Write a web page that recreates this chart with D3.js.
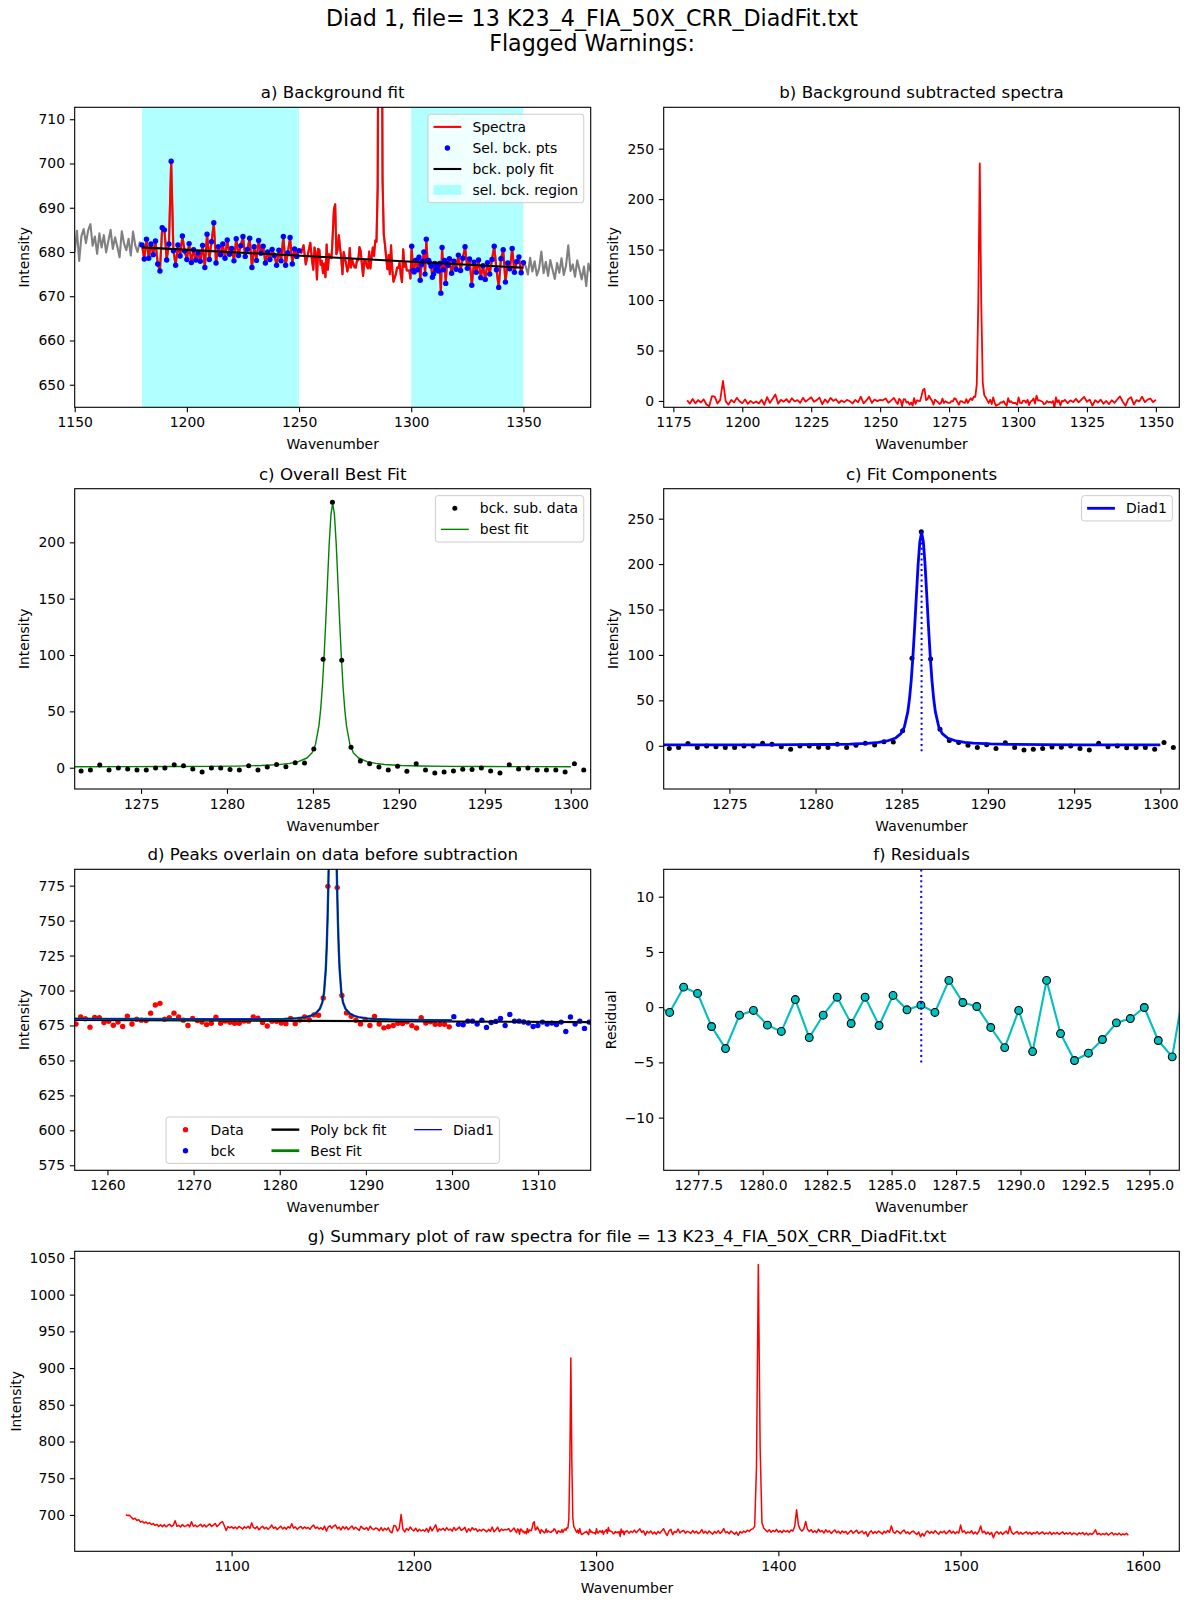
<!DOCTYPE html>
<html>
<head>
<meta charset="utf-8">
<script src="https://cdn.jsdelivr.net/npm/d3@7"></script>
<style>
  body { margin: 0; background: #fff; }
  svg text { font-family: "DejaVu Sans", sans-serif; }
</style>
</head>
<body>
<svg id="fig" width="1188" height="1605"></svg>
<script>
// ---- raw spectrum ----
// coarse part, 1 cm-1 steps from 1042 to 1255
const lowStart = 1042;
const lowY = [
  700.2, 699.1, 699.6, 697.0, 694.3, 695.5, 692.4, 693.6, 690.2, 691.3,
  689.0, 690.4, 688.1, 689.5, 686.9, 688.3, 685.7, 687.2, 684.3, 686.6,
  684.1, 686.8, 683.9, 685.7, 687.4, 684.2, 686.0, 692.1, 684.5, 685.8,
  683.6, 686.9, 684.4, 685.1, 687.0, 683.8, 690.8, 684.6, 686.2, 683.9,
  685.4, 687.3, 684.0, 686.5, 683.7, 685.9, 687.8, 684.3, 686.1, 688.4,
  684.2, 686.7, 689.6, 691.0, 685.3, 678.9, 684.1, 682.5, 684.0, 681.7,
  683.5, 681.2, 684.3, 682.6, 680.9, 683.8, 682.0, 684.6, 681.5, 689.2,
  683.0, 681.4, 684.1, 679.8, 682.7, 684.5, 681.3, 683.2, 680.6, 682.9,
  686.3, 681.8, 683.5, 680.2, 682.6, 684.7, 681.0, 683.3, 680.7, 684.0,
  682.2, 688.0, 681.9, 683.6, 680.4, 682.8, 684.3, 681.1, 683.7, 681.6,
  682.9, 680.5, 684.2, 686.1, 681.7, 683.4, 680.8, 682.6, 680.1, 684.8,
  678.0, 683.6, 685.2, 682.0, 684.9, 686.3, 681.4, 683.5, 679.6, 684.2,
  681.0, 683.8, 679.9, 682.5, 685.0, 680.7, 683.3, 681.2, 678.8, 684.7,
  681.9, 680.4, 683.0, 679.2, 684.6, 681.5, 680.0, 682.2, 681.6, 678.4,
  682.9, 678.6, 681.8, 679.4, 682.5, 677.3, 675.7, 685.5, 685.0, 678.2,
  681.8, 700.5, 680.3, 677.0, 681.6, 679.1, 683.6, 680.2, 678.3, 681.9,
  677.6, 680.5, 678.2, 679.8, 677.9, 681.5, 676.5, 684.0, 678.3, 682.3,
  686.6, 677.5, 681.2, 679.4, 681.8, 678.6, 682.7, 679.5, 680.8, 678.0,
  683.0, 679.2, 681.4, 683.5, 679.0, 680.6, 683.1, 676.5, 681.2, 678.1,
  682.6, 679.7, 681.3, 677.5, 680.0, 678.3, 680.6, 679.2, 677.0, 680.4,
  678.0, 683.5, 677.0, 679.8, 683.3, 677.3, 680.7, 679.0, 680.3, 679.8,
  681.5, 677.2, 679.6, 682.1
];
// fine part around the diad, instrument steps
const fineStart = 1255.81, fineStep = 0.5415;
const fineY = [
  678.0, 676.0, 681.0, 679.8, 673.8, 680.7, 680.5, 677.1, 678.0, 675.2,
  677.4, 674.3, 681.7, 676.0, 679.5, 678.8, 678.6, 683.8, 689.6, 690.8,
  679.5, 680.5, 683.8, 681.0, 678.8, 675.0, 680.0, 678.6, 677.4,
  675.6, 676.6, 680.9, 676.5, 678.2, 677.3, 676.5, 676.5, 678.2, 678.1,
  681.1, 680.2, 677.2, 674.6, 678.1, 678.0, 676.8, 676.3, 680.1, 676.3,
  678.9, 681.0, 679.1, 682.6, 682.3, 694.7, 774.5, 913.7, 773.6, 696.4,
  684.0, 681.6, 678.7, 676.1, 679.3, 675.0, 681.5, 676.0, 673.3, 674.2,
  675.0, 676.5, 676.4, 677.6, 674.9, 673.2, 680.6, 676.7, 677.6, 675.8,
  675.8, 675.8, 674.0, 681.3, 675.8,
  675.5, 678.1, 678.1, 676.0, 678.8, 673.6, 677.1, 677.9, 680.0, 675.0,
  682.9, 678.1, 678.1, 677.5, 676.8, 674.3, 675.0, 677.4, 676.0, 676.7,
  675.7, 677.4, 670.7, 681.0, 676.0, 678.1, 672.9, 677.4, 677.0
];
// coarse part, 1 cm-1 steps from 1317 to 1592
const highStart = 1317;
const highY = [
  678.5, 675.2, 677.9, 676.1, 679.3, 675.8, 678.6, 681.2, 676.3, 678.4,
  672.5, 677.7, 675.4, 678.2, 674.2, 676.9, 673.8, 677.6, 675.0, 678.3,
  681.3, 676.0, 672.0, 678.5, 680.5, 673.2, 677.5, 676.2, 680.8, 675.4,
  677.8, 678.9, 675.3, 677.6, 676.8, 674.9, 678.7, 675.6, 677.9, 674.7,
  676.3, 680.1, 675.2, 677.8, 674.6, 678.2, 676.0, 673.9, 677.5, 675.3,
  678.6, 674.8, 676.9, 681.5, 675.7, 677.2, 674.4, 678.1, 676.0, 673.8,
  676.7, 672.3, 677.4, 675.5, 678.0, 676.4, 679.2, 677.6, 680.1, 681.0,
  684.5, 765.0, 1041.0, 792.0, 689.5, 682.0, 679.4, 677.1, 679.8, 676.5,
  678.9, 677.2, 680.3, 676.6, 678.4, 675.8, 679.1, 677.0, 678.7, 676.3,
  679.5, 678.1, 684.8, 707.0, 686.5, 680.2, 678.0, 681.3, 691.0, 680.4,
  677.6, 679.9, 676.2, 678.5, 675.8, 680.5, 677.1, 678.6, 675.4, 679.7,
  676.8, 678.3, 674.9, 677.5, 679.6, 675.7, 677.9, 674.6, 678.2, 676.0,
  677.7, 673.9, 676.8, 678.9, 675.1, 677.4, 679.2, 674.8, 676.5, 678.0,
  674.3, 677.2, 670.9, 676.1, 678.4, 674.7, 677.5, 675.3, 678.1, 676.2,
  674.0, 677.8, 675.6, 678.7, 676.3, 685.1, 677.2, 675.0, 678.3, 676.9,
  674.5, 677.6, 679.3, 675.2, 677.0, 674.1, 676.8, 678.0, 675.6, 673.4,
  676.9, 670.2, 674.8, 671.3, 676.5, 678.2, 674.9, 677.3, 675.1, 678.6,
  676.0, 673.8, 677.4, 675.7, 678.1, 674.3, 676.6, 679.0, 675.2, 677.8,
  674.6, 677.1, 675.3, 686.2, 676.4, 678.3, 674.7, 677.0, 675.5, 678.4,
  674.2, 676.7, 673.9, 677.5, 685.0, 675.8, 677.9, 674.1, 676.6, 673.5,
  676.2, 669.0, 675.4, 677.3, 674.0, 676.8, 673.6, 675.9, 678.0, 674.4,
  684.2, 676.1, 673.7, 675.8, 677.4, 674.0, 676.3, 673.8, 675.6, 677.0,
  674.2, 676.5, 673.5, 675.9, 674.6, 677.1, 673.9, 675.4, 676.8, 673.7,
  675.5, 674.1, 676.7, 673.4, 675.8, 674.3, 676.2, 673.6, 675.1, 677.0,
  673.8, 675.6, 674.0, 676.1, 673.2, 675.3, 674.5, 672.9, 675.7, 674.2,
  676.0, 673.1, 675.4, 672.8, 674.9, 673.5, 675.8, 679.8, 673.3, 675.1,
  672.9, 674.6, 673.2, 675.3, 672.6, 674.4, 676.1, 672.8, 674.7, 673.0,
  675.2, 672.7, 674.3, 673.1, 675.0, 672.4
];

// background regions and polynomial fit (end points of the fitted line)
const bckRegions = [[1180, 1250], [1300, 1350]];
const bckX = [1180, 1350];
const bckY = [681.05, 676.45];

// best-fit / Diad1 curve, background subtracted
const fitX = [1255, 1260, 1265, 1270, 1274, 1277, 1279, 1280.5, 1282, 1283,
  1283.65, 1284.15, 1284.65, 1284.95, 1285.15, 1285.35, 1285.45, 1285.55, 1285.65, 1285.75,
  1285.85, 1285.95, 1286.05, 1286.15, 1286.25, 1286.35, 1286.45, 1286.55, 1286.65, 1286.75,
  1286.85, 1286.95, 1287.15, 1287.35, 1287.65, 1288.15, 1288.65, 1289.15, 1290.15, 1291.15,
  1293.15, 1295, 1298, 1300];
const fitY = [0.85, 0.85, 0.85, 0.87, 0.93, 1.03, 1.17, 1.4, 1.9, 2.7,
  3.8, 5.3, 8.6, 13.3, 20.6, 37.3, 52.0, 72.3, 99.3, 131.0,
  166.0, 199.9, 224.9, 234.8, 224.9, 199.9, 166.0, 131.0, 99.3, 72.3,
  52.0, 37.3, 20.6, 13.3, 8.6, 5.3, 3.8, 2.9, 2.0, 1.56,
  1.19, 1.04, 0.93, 0.9];
const peakCentre = 1286.15;

// residuals on the instrument grid
const resStart = 1275.85, resStep = 0.5415;
const resY = [0.1, -0.48, 1.81, 1.24, -1.75, -3.75, -0.73, -0.3, -1.63, -2.2,
  0.69, -2.75, -0.73, 0.9, -1.48, 0.9, -1.66, 1.06, -0.24, 0.18,
  -0.48, 2.42, 0.42, 0.06, -1.84, -3.66, -0.3, -4.02, 2.42, -2.39,
  -4.83, -4.17, -2.93, -1.42, -1.03, -0.03, -3.02, -4.5, 2.9];

// tick values
const aXT = [1150, 1200, 1250, 1300, 1350], aYT = [650, 660, 670, 680, 690, 700, 710];
const bXT = [1175, 1200, 1225, 1250, 1275, 1300, 1325, 1350], bYT = [0, 50, 100, 150, 200, 250];
const cXT = [1275, 1280, 1285, 1290, 1295, 1300], cYT = [0, 50, 100, 150, 200];
const ccYT = [0, 50, 100, 150, 200, 250];
const dXT = [1260, 1270, 1280, 1290, 1300, 1310], dYT = [575, 600, 625, 650, 675, 700, 725, 750, 775];
const fXT = [1277.5, 1280, 1282.5, 1285, 1287.5, 1290, 1292.5, 1295], fYT = [-10, -5, 0, 5, 10];
const gXT = [1100, 1200, 1300, 1400, 1500, 1600], gYT = [700, 750, 800, 850, 900, 950, 1000, 1050];

const fileName = "13 K23_4_FIA_50X_CRR_DiadFit.txt";

// ---- derived data ----
const spec = [];
lowY.forEach((v, i) => spec.push({x: lowStart + i, y: v}));
fineY.forEach((v, i) => spec.push({x: fineStart + i * fineStep, y: v}));
highY.forEach((v, i) => spec.push({x: highStart + i, y: v}));

const bck = d3.scaleLinear().domain(bckX).range(bckY);
const inBck = d => bckRegions.some(r => d.x >= r[0] && d.x <= r[1]);
const selSpec = spec.filter(d => d.x >= 1180 && d.x <= 1350);
const sub = selSpec.map(d => ({x: d.x, y: d.y - bck(d.x)}));
const fit = fitX.map((v, i) => ({x: v, y: fitY[i]}));
const res = resY.map((v, i) => ({x: resStart + i * resStep, y: v}));

// ---- drawing helpers ----
const svg = d3.select("#fig");
const FS = 13.9;
const TICK = 4.86;
let clipN = 0;

function makePanel(p) {
  const g = svg.append("g").attr("transform", `translate(${p.left},${p.top})`);
  const x = d3.scaleLinear().domain(p.xd).range([0, p.w]);
  const y = d3.scaleLinear().domain(p.yd).range([p.h, 0]);
  const cid = "clip" + (clipN++);
  g.append("clipPath").attr("id", cid).append("rect").attr("width", p.w).attr("height", p.h);
  const plot = g.append("g").attr("clip-path", `url(#${cid})`);
  const xa = g.append("g").attr("transform", `translate(0,${p.h})`)
    .call(d3.axisBottom(x).tickValues(p.xt).tickFormat(p.xf || d3.format("d")).tickSize(TICK).tickPadding(TICK));
  const ya = g.append("g")
    .call(d3.axisLeft(y).tickValues(p.yt).tickFormat(d3.format("d")).tickSize(TICK).tickPadding(TICK));
  [xa, ya].forEach(a => {
    a.select(".domain").remove();
    a.attr("font-size", FS).attr("font-family", "DejaVu Sans");
    a.selectAll(".tick line").attr("stroke-width", 1.1);
  });
  g.append("rect").attr("width", p.w).attr("height", p.h)
    .attr("fill", "none").attr("stroke", "#000").attr("stroke-width", 1.1);
  g.append("text").attr("x", p.w / 2).attr("y", -9).attr("text-anchor", "middle")
    .attr("font-size", 16.67).text(p.title);
  g.append("text").attr("x", p.w / 2).attr("y", p.h + 42).attr("text-anchor", "middle")
    .attr("font-size", FS).text("Wavenumber");
  const bb = ya.node().getBBox();
  g.append("text").attr("transform", `translate(${bb.x - 9},${p.h / 2}) rotate(-90)`)
    .attr("text-anchor", "middle").attr("font-size", FS).text(p.ylabel || "Intensity");
  return {g, plot, x, y, w: p.w, h: p.h};
}

function line(P, data, color, width, dash) {
  const l = d3.line().x(d => P.x(d.x)).y(d => P.y(d.y));
  const s = P.plot.append("path").datum(data).attr("d", l)
    .attr("fill", "none").attr("stroke", color).attr("stroke-width", width)
    .attr("stroke-linejoin", "round");
  if (dash) s.attr("stroke-dasharray", dash);
  return s;
}

function dots(P, data, color, r, stroke) {
  const s = P.plot.append("g").selectAll("circle").data(data).join("circle")
    .attr("cx", d => P.x(d.x)).attr("cy", d => P.y(d.y)).attr("r", r).attr("fill", color);
  if (stroke) s.attr("stroke", stroke).attr("stroke-width", 1.1);
}

function legend(P, items, loc, ncol) {
  const lg = P.g.append("g");
  const pad = 5.6, hl = 27.8, htp = 11.1, rowH = 14.1, ls = 6.95, cs = 27.8, bap = 6.95;
  const tw = items.map(it => {
    const t = lg.append("text").attr("font-size", FS).text(it.label);
    const wd = t.node().getComputedTextLength();
    t.remove();
    return wd;
  });
  const nrow = Math.ceil(items.length / ncol);
  const cols = d3.range(ncol).map(c => d3.range(items.length).filter(i => Math.floor(i / nrow) === c));
  const colW = cols.map(c => hl + htp + d3.max(c, i => tw[i]));
  const bw = 2 * pad + d3.sum(colW) + cs * (ncol - 1);
  const bh = 2 * pad + nrow * rowH + (nrow - 1) * ls;
  const bx = loc === "upper right" ? P.w - bap - bw : (P.w - bw) / 2;
  const by = loc === "upper right" ? bap : P.h - bap - bh;
  lg.append("rect").attr("x", bx).attr("y", by).attr("width", bw).attr("height", bh).attr("rx", 2.8)
    .attr("fill", "#fff").attr("fill-opacity", 0.8).attr("stroke", "#cccccc").attr("stroke-width", 1);
  let cx = bx + pad;
  cols.forEach((c, ci) => {
    c.forEach((i, r) => {
      const it = items[i];
      const cy = by + pad + r * (rowH + ls) + rowH / 2;
      if (it.type === "line") {
        lg.append("line").attr("x1", cx).attr("x2", cx + hl).attr("y1", cy).attr("y2", cy)
          .attr("stroke", it.color).attr("stroke-width", it.width);
      } else if (it.type === "dot") {
        lg.append("circle").attr("cx", cx + hl / 2).attr("cy", cy).attr("r", it.r).attr("fill", it.color);
      } else {
        lg.append("rect").attr("x", cx).attr("y", cy - 4.87).attr("width", hl).attr("height", 9.73)
          .attr("fill", it.color).attr("fill-opacity", 0.3);
      }
      lg.append("text").attr("x", cx + hl + htp).attr("y", cy + 5).attr("font-size", FS).text(it.label);
    });
    cx += colW[ci] + cs;
  });
}

// ---- figure title ----
svg.append("text").attr("x", 592).attr("y", 26).attr("text-anchor", "middle")
  .attr("font-size", 22.2).text("Diad 1, file= " + fileName);
svg.append("text").attr("x", 592).attr("y", 51).attr("text-anchor", "middle")
  .attr("font-size", 22.2).text("Flagged Warnings:");

// ---- a) background fit ----
const A = makePanel({left: 74.7, top: 107.3, w: 516, h: 300, xd: [1150, 1380], yd: [644.9, 712.7],
  xt: aXT, yt: aYT, title: "a) Background fit"});
bckRegions.forEach(r => {
  A.plot.append("rect").attr("x", A.x(r[0])).attr("width", A.x(r[1]) - A.x(r[0]))
    .attr("y", 0).attr("height", A.h).attr("fill", "cyan").attr("fill-opacity", 0.3);
});
line(A, spec, "grey", 2.1);
line(A, selSpec, "red", 2.1);
dots(A, spec.filter(inBck), "blue", 2.7);
line(A, bckX.map((v, i) => ({x: v, y: bckY[i]})), "black", 2.1);
legend(A, [
  {type: "line", color: "red", width: 2.1, label: "Spectra"},
  {type: "dot", color: "blue", r: 2.7, label: "Sel. bck. pts"},
  {type: "line", color: "black", width: 2.1, label: "bck. poly fit"},
  {type: "patch", color: "cyan", label: "sel. bck. region"}
], "upper right", 1);

// ---- b) background subtracted ----
const B = makePanel({left: 663.7, top: 107.3, w: 515.6, h: 300, xd: [1171.5, 1358.5], yd: [-6.3, 291],
  xt: bXT, yt: bYT, title: "b) Background subtracted spectra"});
line(B, sub, "red", 1.8);

// ---- c) overall best fit ----
const C = makePanel({left: 74.7, top: 488.7, w: 516, h: 300.3, xd: [1271.14, 1301.16], yd: [-18.9, 247.6],
  xt: cXT, yt: cYT, title: "c) Overall Best Fit"});
line(C, fit, "green", 1.39);
dots(C, sub, "black", 2.5);
legend(C, [
  {type: "dot", color: "black", r: 2.5, label: "bck. sub. data"},
  {type: "line", color: "green", width: 1.39, label: "best fit"}
], "upper right", 1);

// ---- c) fit components ----
const CC = makePanel({left: 663.7, top: 488.7, w: 515.6, h: 300.3, xd: [1271.19, 1301.1], yd: [-47.6, 283],
  xt: cXT, yt: ccYT, title: "c) Fit Components"});
dots(CC, sub, "black", 2.5);
line(CC, fit, "blue", 2.8);
line(CC, [{x: peakCentre, y: -6}, {x: peakCentre, y: 235}], "blue", 2, "2,3.3");
legend(CC, [{type: "line", color: "blue", width: 2.8, label: "Diad1"}], "upper right", 1);

// ---- d) peaks overlain on raw data ----
const D = makePanel({left: 74.7, top: 869.3, w: 516, h: 301, xd: [1256.2, 1316.1], yd: [571.4, 786.7],
  xt: dXT, yt: dYT, title: "d) Peaks overlain on data before subtraction"});
dots(D, selSpec.filter(d => d.x > 1250 && d.x < 1300), "red", 2.7);
dots(D, spec.filter(inBck), "blue", 2.7);
line(D, bckX.map((v, i) => ({x: v, y: bckY[i]})), "black", 2.1);
line(D, fit.map(d => ({x: d.x, y: d.y + bck(d.x)})), "green", 2.4);
line(D, fit.map(d => ({x: d.x, y: d.y + bck(d.x)})), "blue", 1.3);
legend(D, [
  {type: "dot", color: "red", r: 2.7, label: "Data"},
  {type: "dot", color: "blue", r: 2.7, label: "bck"},
  {type: "line", color: "black", width: 2.4, label: "Poly bck fit"},
  {type: "line", color: "green", width: 2.8, label: "Best Fit"},
  {type: "line", color: "blue", width: 1.3, label: "Diad1"}
], "lower center", 3);

// ---- f) residuals ----
const F = makePanel({left: 663.7, top: 869.3, w: 515.6, h: 301, xd: [1276.16, 1296.16], yd: [-14.77, 12.48],
  xt: fXT, xf: d3.format(".1f"), yt: fYT, title: "f) Residuals", ylabel: "Residual"});
line(F, res, "#00bfbf", 2.1);
dots(F, res, "#00bfbf", 3.9, "black");
line(F, [{x: peakCentre, y: -5}, {x: peakCentre, y: 12.48}], "blue", 2, "2,3.3");

// ---- g) summary raw spectrum ----
const G = makePanel({left: 74.7, top: 1251.3, w: 1104.6, h: 300, xd: [1013.9, 1620], yd: [650.5, 1059],
  xt: gXT, yt: gYT, title: "g) Summary plot of raw spectra for file = " + fileName});
line(G, spec, "red", 1.5);
</script>
</body>
</html>
